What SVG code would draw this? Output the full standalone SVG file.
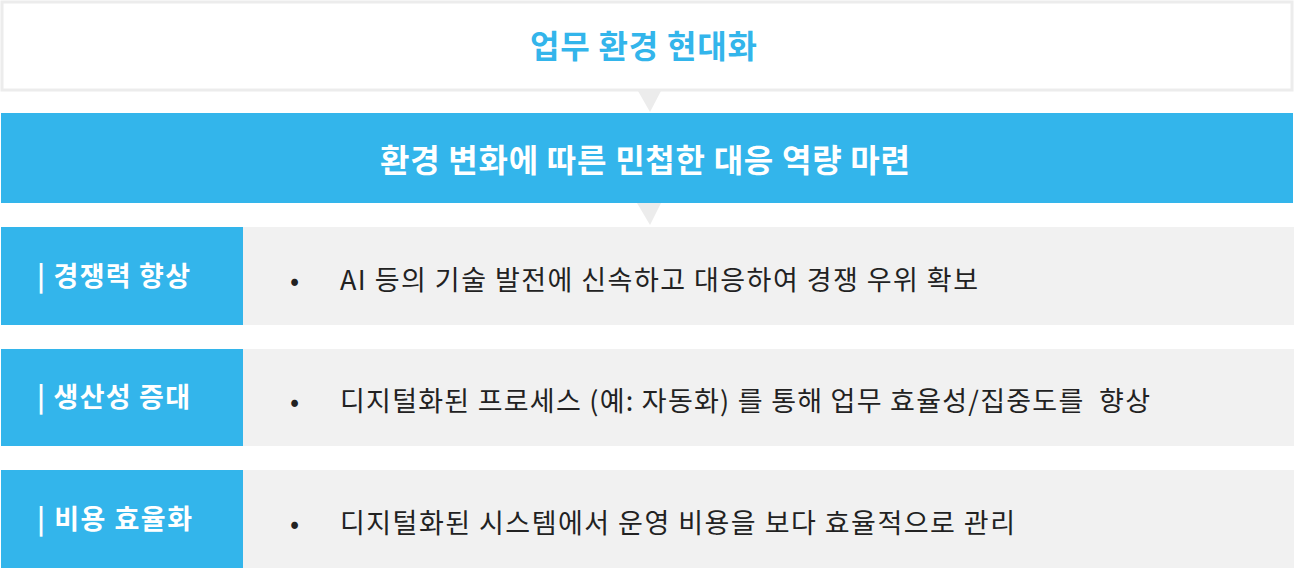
<svg xmlns="http://www.w3.org/2000/svg" width="1294" height="568" viewBox="0 0 1294 568">
<style>
.k{font-family:"Noto Sans CJK KR","Noto Sans",sans-serif}
.title{font-size:32px;font-weight:700;fill:#33b5eb}
.banner{font-size:32px;font-weight:700;fill:#ffffff}
.lab{font-size:27px;font-weight:700;fill:#ffffff}
.body{font-size:27px;font-weight:400;fill:#222222;white-space:pre}
.blue{fill:#33b5eb}
.gray{fill:#f1f1f1}
.ptr{fill:#ececec}
</style>
<rect width="1294" height="568" fill="#ffffff"/>
<g id="top">
<rect x="2" y="2" width="1290" height="88" fill="#ffffff" stroke="#ececec" stroke-width="3"/>
<text class="k title" x="530" y="58" textLength="227" lengthAdjust="spacing">업무 환경 현대화</text>
</g>
<g id="connectors">
<polygon class="ptr" points="638,91 661,91 650,112"/>
<polygon class="ptr" points="637,203 661,203 650,225"/>
</g>
<g id="banner">
<rect class="blue" x="1" y="113" width="1292" height="90"/>
<text class="k banner" x="380" y="172" textLength="530" lengthAdjust="spacing">환경 변화에 따른 민첩한 대응 역량 마련</text>
</g>
<g id="row1">
<rect class="blue" x="1" y="227" width="242" height="98"/>
<rect class="gray" x="243" y="227" width="1051" height="98"/>
<text class="k lab" x="37" y="286" textLength="153" lengthAdjust="spacing">| 경쟁력 향상</text>
<text class="k body" x="290" y="290">•</text>
<text class="k body" x="340" y="290" textLength="638" lengthAdjust="spacing">AI 등의 기술 발전에 신속하고 대응하여 경쟁 우위 확보</text>
</g>
<g id="row2">
<rect class="blue" x="1" y="349" width="242" height="97"/>
<rect class="gray" x="243" y="349" width="1051" height="97"/>
<text class="k lab" x="37" y="407" textLength="153" lengthAdjust="spacing">| 생산성 증대</text>
<text class="k body" x="290" y="411">•</text>
<text class="k body" x="340" y="411" textLength="810" lengthAdjust="spacing">디지털화된 프로세스 (예: 자동화) 를 통해 업무 효율성/집중도를  향상</text>
</g>
<g id="row3">
<rect class="blue" x="1" y="470" width="242" height="98"/>
<rect class="gray" x="243" y="470" width="1051" height="98"/>
<text class="k lab" x="37" y="529" textLength="155" lengthAdjust="spacing">| 비용 효율화</text>
<text class="k body" x="290" y="533">•</text>
<text class="k body" x="340" y="533" textLength="675" lengthAdjust="spacing">디지털화된 시스템에서 운영 비용을 보다 효율적으로 관리</text>
</g>
</svg>
